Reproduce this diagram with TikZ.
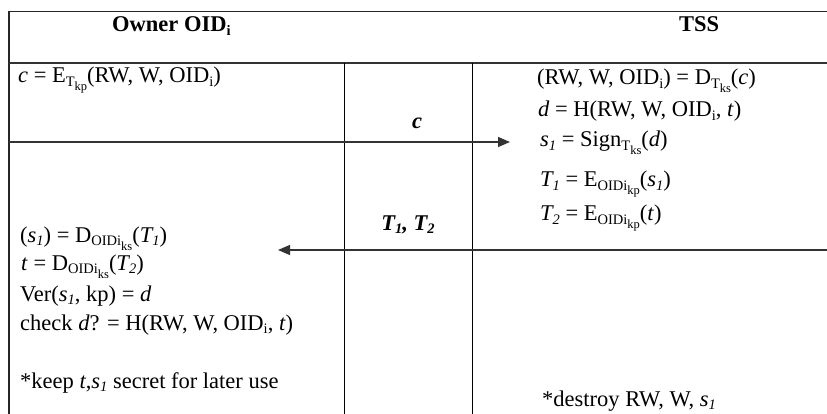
\documentclass[tikz,border=0pt]{standalone}
\usepackage{fontspec}
\setmainfont{Liberation Serif}
\usetikzlibrary{arrows.meta}
\newcommand\subA[1]{\raisebox{-3.5pt}{\fontsize{14.5}{16}\selectfont #1}}
\newcommand\subB[1]{\raisebox{-4.5pt}{\fontsize{12.5}{14}\selectfont #1}}
\begin{document}
\begin{tikzpicture}[x=1pt,y=-1pt,
  txt/.style={anchor=base west, inner sep=0pt, font=\fontsize{22.5}{27}\selectfont},
  hdr/.style={txt, font=\fontsize{22.5}{27}\selectfont\bfseries},
  lbl/.style={anchor=base, inner sep=0pt, font=\fontsize{22.5}{27}\selectfont\bfseries\itshape},
  rule/.style={line width=1.3pt, draw=black!85},
  thickrule/.style={line width=2pt, draw=black!80},
  vrule/.style={line width=1pt, draw=black},
  msg/.style={line width=1.3pt, draw=black!80, -{Triangle[length=12pt,width=10pt]}}]
\useasboundingbox (0,0) rectangle (827,414);
% table rules
\coordinate (tl) at (9,11.5);
\coordinate (tr) at (827,11.5);
\coordinate (bl) at (9,414);
\coordinate (hl) at (9,63);
\coordinate (hr) at (827,63);
\coordinate (v1t) at (344,63);
\coordinate (v1b) at (344,414);
\coordinate (v2t) at (472,63);
\coordinate (v2b) at (472,414);
\draw[rule] (tl) -- (tr);
\draw[rule] (tl) -- (bl);
\draw[thickrule] (hl) -- (hr);
\draw[vrule] (v1t) -- (v1b);
\draw[vrule] (v2t) -- (v2b);
% messages
\coordinate (cL) at (9,142);
\coordinate (cR) at (510,142);
\draw[msg] (cL) -- (cR);
\coordinate (tR) at (827,250);
\coordinate (tL) at (278,250);
\draw[msg] (tR) -- (tL);
\node[lbl] (clbl) at (417,129) {c};
\node[lbl] (tlbl) at (408,230) {T\subA{1}, T\subA{2}};
% headers
\node[hdr] (owner) at (112,32) {Owner OID\subA{i}};
\node[hdr] (tss) at (679,32) {TSS};
% owner side
\node[txt] (o1) at (18,83) {\textit{c} = E\subA{T\subB{kp}}(RW, W, OID\subA{i})};
\node[txt] (o2) at (20,242) {(\textit{s\subA{1}}) = D\subA{OIDi\subB{ks}}(\textit{T\subA{1}})};
\node[txt] (o3) at (21,270) {\textit{t} = D\subA{OIDi\subB{ks}}(\textit{T\subA{2}})};
\node[txt] (o4) at (20,301) {Ver(\textit{s\subA{1}}, kp) = \textit{d}};
\node[txt] (o5) at (20,330) {check \textit{d}? = H(RW, W, OID\subA{i}, \textit{t})};
\node[txt] (o6) at (20,388) {*keep \textit{t},\textit{s\subA{1}} secret for later use};
% TSS side
\node[txt] (s1) at (537,85) {(RW, W, OID\subA{i}) = D\subA{T\subB{ks}}(\textit{c})};
\node[txt] (s2) at (538,117) {\textit{d} = H(RW, W, OID\subA{i}, \textit{t})};
\node[txt] (s3) at (540,147) {\textit{s\subA{1}} = Sign\subA{T\subB{ks}}(\textit{d})};
\node[txt] (s4) at (540,187) {\textit{T\subA{1}} = E\subA{OIDi\subB{kp}}(\textit{s\subA{1}})};
\node[txt] (s5) at (540,221) {\textit{T\subA{2}} = E\subA{OIDi\subB{kp}}(\textit{t})};
\node[txt] (s6) at (542,406) {*destroy RW, W, \textit{s\subA{1}}};
\end{tikzpicture}
\end{document}
